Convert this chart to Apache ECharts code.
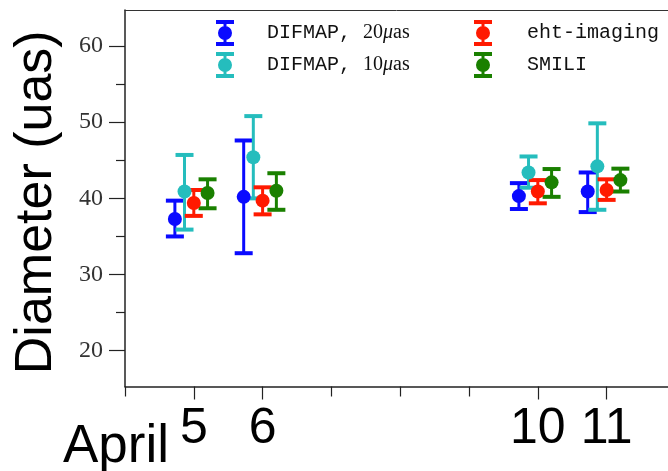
<!DOCTYPE html>
<html><head><meta charset="utf-8">
<script src="https://cdn.jsdelivr.net/npm/echarts@6/dist/echarts.min.js"></script>
<style>html,body{margin:0;padding:0;background:#fff}#c{width:668px;height:471px}</style>
</head><body><div id="c"></div>
<script>
// ---- data ----
const dates = [5, 6, 10, 11];
const xMinorTicks = [4, 7, 8, 9];
const yTicks = [20, 30, 40, 50, 60];
const yMinorTicks = [25, 35, 45, 55];
const seriesNames = ['DIFMAP, 20μas', 'DIFMAP, 10μas', 'eht-imaging', 'SMILI'];

const difmap20X  = [4.725, 5.725, 9.725, 10.725];
const difmap20Y  = [37.3, 40.2, 40.3, 40.9];
const difmap20Lo = [35.0, 32.8, 38.6, 38.2];
const difmap20Hi = [39.7, 47.6, 42.0, 43.4];

const difmap10X  = [4.865, 5.865, 9.865, 10.865];
const difmap10Y  = [40.9, 45.4, 43.4, 44.2];
const difmap10Lo = [35.9, 40.0, 41.4, 38.5];
const difmap10Hi = [45.7, 50.8, 45.5, 49.85];

const ehtX  = [5.0, 6.0, 10.0, 11.0];
const ehtY  = [39.4, 39.7, 40.9, 41.1];
const ehtLo = [37.7, 37.9, 39.35, 39.8];
const ehtHi = [41.1, 41.45, 42.4, 42.5];

const smiliX  = [5.2, 6.2, 10.2, 11.2];
const smiliY  = [40.7, 41.0, 42.1, 42.4];
const smiliLo = [38.7, 38.5, 40.2, 40.9];
const smiliHi = [42.5, 43.3, 43.85, 43.9];

const colors = ['#0a0aff', '#25bdbd', '#ff1a00', '#1a8000'];

// ---- build ----
const groups = [
  [difmap20X, difmap20Y, difmap20Lo, difmap20Hi],
  [difmap10X, difmap10Y, difmap10Lo, difmap10Hi],
  [ehtX, ehtY, ehtLo, ehtHi],
  [smiliX, smiliY, smiliLo, smiliHi]
];

function renderErr(params, api) {
  const x = api.value(0), lo = api.value(1), hi = api.value(2);
  const pLo = api.coord([x, lo]), pHi = api.coord([x, hi]);
  const color = api.visual('color');
  const capW = 18, capH = 4;
  return {type: 'group', children: [
    {type: 'line', shape: {x1: pLo[0], y1: pLo[1], x2: pHi[0], y2: pHi[1]}, style: {stroke: color, lineWidth: 3}},
    {type: 'rect', shape: {x: pHi[0] - capW / 2, y: pHi[1] - capH / 2, width: capW, height: capH}, style: {fill: color}},
    {type: 'rect', shape: {x: pLo[0] - capW / 2, y: pLo[1] - capH / 2, width: capW, height: capH}, style: {fill: color}}
  ]};
}

const series = [];
groups.forEach((g, k) => {
  series.push({
    name: seriesNames[k], type: 'custom', xAxisIndex: 0, yAxisIndex: 0,
    renderItem: renderErr, itemStyle: {color: colors[k]}, z: 2 + k * 0.01,
    encode: {x: 0, y: [1, 2]},
    data: g[0].map((x, i) => [x, g[2][i], g[3][i]]),
    silent: true, clip: false
  });
});
groups.forEach((g, k) => {
  series.push({
    name: seriesNames[k], type: 'scatter', xAxisIndex: 0, yAxisIndex: 0,
    symbol: 'circle', symbolSize: 14, itemStyle: {color: colors[k], opacity: 1},
    z: 3 + k * 0.01,
    data: g[0].map((x, i) => [x, g[1][i]]),
    silent: true
  });
});

const icon = 'path://M0 0H18V4H0Z M0 22H18V26H0Z M7.5 4H10.5V22H7.5Z M2 13A7 7 0 1 1 16 13A7 7 0 1 1 2 13Z';
const legendRich = {
  m: {fontFamily: 'Liberation Mono', fontSize: 20, color: '#111'},
  s: {fontFamily: 'Liberation Serif', fontSize: 20, color: '#111'},
  i: {fontFamily: 'Liberation Serif', fontStyle: 'italic', fontSize: 20, color: '#111'}
};
function legendFmt(name) {
  const m = name.match(/^(DIFMAP, )(\d+)μas$/);
  if (m) return '{m|' + m[1] + '}{s|' + m[2] + '}{i|μ}{s|as}';
  return '{m|' + name + '}';
}
function legendCfg(names, left, pad) {
  return {
    orient: 'vertical', left: left, top: 20, padding: 0,
    itemWidth: 18, itemHeight: 26, itemGap: 6,
    selectedMode: false,
    data: names.map(n => ({name: n, icon: icon})),
    formatter: legendFmt,
    textStyle: {rich: legendRich, padding: [0, 0, 0, pad]}
  };
}

const GL = 125, GT = 10, GH = 376.5;
const XMIN = 4, XMAX = 11.892, YMIN = 15.3, YMAX = 64.73;

const chart = echarts.init(document.getElementById('c'), null, {renderer: 'canvas'});
chart.setOption({
  backgroundColor: '#fff',
  animation: false,
  grid: [
    {left: GL, top: GT, right: 0, height: GH, containLabel: false},
    {left: GL, top: GT, right: 0, height: GH, containLabel: false}
  ],
  legend: [
    legendCfg([seriesNames[0], seriesNames[1]], 216, 28),
    legendCfg([seriesNames[2], seriesNames[3]], 474, 30)
  ],
  xAxis: [
    {type: 'value', gridIndex: 0, min: XMIN, max: XMAX, position: 'bottom',
     axisLine: {show: true, onZero: false, lineStyle: {color: '#222', width: 1.5}},
     axisTick: {show: true, customValues: dates, length: 13, lineStyle: {color: '#222', width: 1.2}},
     axisLabel: {show: true, customValues: dates, fontFamily: 'Liberation Sans', fontSize: 50, color: '#000', margin: 18},
     splitLine: {show: false}},
    {type: 'value', gridIndex: 0, min: XMIN, max: XMAX, position: 'top',
     axisLine: {show: true, onZero: false, lineStyle: {color: '#333', width: 1}},
     axisTick: {show: false}, axisLabel: {show: false}, splitLine: {show: false}},
    {type: 'value', gridIndex: 1, min: XMIN, max: XMAX, position: 'bottom',
     axisLine: {show: false, onZero: false},
     axisTick: {show: true, customValues: xMinorTicks, length: 10, lineStyle: {color: '#222', width: 1.2}},
     axisLabel: {show: false}, splitLine: {show: false}}
  ],
  yAxis: [
    {type: 'value', gridIndex: 0, min: YMIN, max: YMAX, position: 'left',
     name: 'Diameter (uas)', nameLocation: 'middle', nameGap: 62,
     nameTextStyle: {fontFamily: 'Liberation Sans', fontSize: 52, color: '#000', padding: [0, 8, 0, 0]},
     axisLine: {show: true, onZero: false, lineStyle: {color: '#222', width: 1.5}},
     axisTick: {show: true, customValues: yTicks, length: 16, lineStyle: {color: '#222', width: 1.2}},
     axisLabel: {show: true, customValues: yTicks, fontFamily: 'Liberation Serif', fontSize: 24, color: '#333', margin: 22},
     splitLine: {show: false}},
    {type: 'value', gridIndex: 1, min: YMIN, max: YMAX, position: 'left',
     axisLine: {show: false, onZero: false},
     axisTick: {show: true, customValues: yMinorTicks, length: 9, lineStyle: {color: '#222', width: 1.2}},
     axisLabel: {show: false}, splitLine: {show: false}}
  ],
  graphic: [
    {type: 'text', left: 63, top: 421, z: 10,
     style: {text: 'April', font: '53px "Liberation Sans"', fill: '#000'}}
  ],
  series: series
});
</script>
</body></html>
